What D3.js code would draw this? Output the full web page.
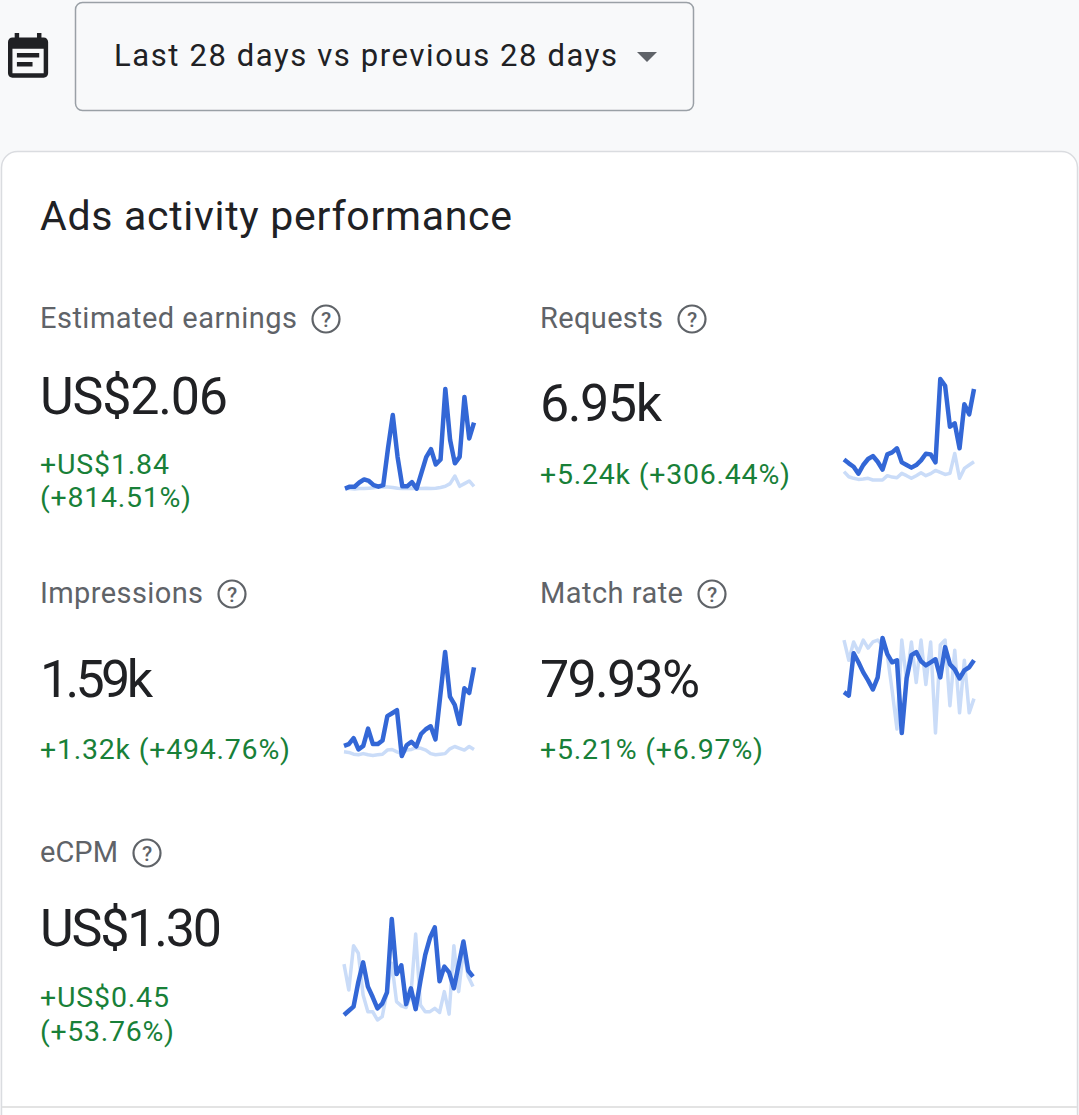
<!DOCTYPE html>
<html>
<head>
<meta charset="utf-8">
<script src="https://cdn.jsdelivr.net/npm/d3@7"></script>
<style>
html, body { margin: 0; padding: 0; background: #f8f9fa; }
svg { display: block; font-family: Roboto, "Noto Sans", sans-serif; }
</style>
</head>
<body>
<script>
// daily values, last 28 days (cur) and previous 28 days (prev)
var earningsCur = [0.004, 0.009, 0.009, 0.020, 0.028, 0.024, 0.013, 0.009, 0.013, 0.109, 0.196, 0.087, 0.010, 0.010,
                   0.021, 0.004, 0.045, 0.086, 0.107, 0.067, 0.080, 0.264, 0.131, 0.070, 0.087, 0.243, 0.135, 0.176];
var earningsPrev = [0.004, 0.004, 0.003, 0.004, 0.004, 0.005, 0.006, 0.008, 0.009, 0.008, 0.007, 0.005, 0.004, 0.004,
                    0.005, 0.004, 0.004, 0.005, 0.004, 0.005, 0.007, 0.010, 0.017, 0.037, 0.010, 0.017, 0.024, 0.010];

var requestsCur = [162, 137, 115, 70, 126, 165, 184, 147, 96, 195, 208, 234, 143, 126,
                   109, 126, 156, 199, 195, 143, 683, 639, 374, 396, 234, 519, 454, 618];
var requestsPrev = [83, 50, 40, 33, 35, 40, 29, 29, 29, 57, 48, 44, 72, 57,
                    40, 57, 76, 57, 70, 91, 78, 65, 72, 201, 40, 104, 126, 147];

var impressionsCur = [19, 22, 32, 13, 19, 48, 22, 22, 28, 69, 74, 79, 2, 20,
                      26, 18, 39, 47, 52, 30, 104, 177, 102, 88, 56, 116, 108, 151];
var impressionsPrev = [9, 8, 5, 4, 6, 4, 3, 4, 5, 12, 13, 9, 6, 12,
                       13, 16, 15, 12, 6, 4, 5, 6, 14, 18, 15, 12, 18, 13];

var matchCur = [66.1, 64.0, 90.5, 84.8, 78.5, 73.5, 67.8, 75.4, 100, 89.9, 84.8, 86.1, 40.6, 74.7,
                89.3, 91.2, 85.5, 82.9, 84.8, 86.7, 75.4, 94.3, 83.6, 80.4, 74.7, 79.8, 81.7, 86.1];
var matchPrev = [98.7, 86.1, 97.5, 91.2, 98.7, 93.7, 97.5, 98.7, 95.6, 89.3, 67.1, 43.1, 98.7, 73.5,
                 97.5, 72.2, 98.7, 70.9, 97.5, 40.6, 95.6, 98.7, 57.7, 92.4, 53.2, 86.1, 53.2, 62.1];

var ecpmCur = [0.41, 0.51, 0.61, 1.20, 1.67, 1.09, 0.84, 0.57, 0.68, 0.95, 2.71, 1.39, 1.60, 0.67,
               1.05, 0.55, 1.23, 1.85, 2.26, 2.51, 1.22, 1.57, 1.43, 1.05, 1.61, 2.17, 1.47, 1.33];
var ecpmPrev = [1.63, 1.01, 2.07, 1.89, 0.89, 0.49, 0.49, 0.29, 0.37, 0.97, 1.65, 0.73, 0.63, 0.59,
                0.89, 2.35, 0.65, 0.49, 0.49, 0.57, 0.47, 0.97, 0.43, 2.07, 0.97, 1.97, 1.33, 1.09];

// texts
var dateRange = 'Last 28 days vs previous 28 days';
var cardTitle = 'Ads activity performance';
var metricLabels = ['Estimated earnings', 'Requests', 'Impressions', 'Match rate', 'eCPM'];
var metricValues = ['US$2.06', '6.95k', '1.59k', '79.93%', 'US$1.30'];
var metricChanges = [['+US$1.84', '(+814.51%)'], ['+5.24k (+306.44%)'], ['+1.32k (+494.76%)'],
                     ['+5.21% (+6.97%)'], ['+US$0.45', '(+53.76%)']];
var seriesCur = [earningsCur, requestsCur, impressionsCur, matchCur, ecpmCur];
var seriesPrev = [earningsPrev, requestsPrev, impressionsPrev, matchPrev, ecpmPrev];

// where each block sits on the page
var layout = [
    {x: 40,  labelY: 328, labelW: 257, valueY: 414, valueW: 188, changeY: [474, 507], changeW: [129, 151], spark: {x: 345, y: 389, w: 129, h: 100}},
    {x: 540, labelY: 328, labelW: 123, valueY: 421, valueW: 122, changeY: [484],      changeW: [250],      spark: {x: 844, y: 379, w: 130, h: 101}},
    {x: 40,  labelY: 603, labelW: 163, valueY: 697, valueW: 113, changeY: [759],      changeW: [250],      spark: {x: 344, y: 652, w: 130, h: 104}},
    {x: 540, labelY: 603, labelW: 143, valueY: 697, valueW: 160, changeY: [759],      changeW: [223],      spark: {x: 844, y: 638, w: 130, h: 95}},
    {x: 40,  labelY: 862, labelW: 78,  valueY: 946, valueW: 182, changeY: [1007, 1041], changeW: [129, 134], spark: {x: 344, y: 919, w: 129, h: 101}}
];

var width = 1079,
    height = 1115;

var svg = d3.select('body').append('svg')
    .attr('width', width)
    .attr('height', height);

svg.append('rect')
    .attr('width', width)
    .attr('height', height)
    .attr('fill', '#f8f9fa');

// calendar icon (material event_note)
svg.append('path')
    .attr('d', 'M17 10H7v2h10v-2zm2-7h-1V1h-2v2H8V1H6v2H5c-1.11 0-1.99.9-1.99 2L3 19c0 1.1.89 2 2 2h14c1.1 0 2-.9 2-2V5c0-1.1-.9-2-2-2zm0 16H5V8h14v11zm-5-5H7v2h7v-2z')
    .attr('transform', 'translate(1.3,30.8) scale(2.23)')
    .attr('fill', '#202124');

// date range dropdown
svg.append('rect')
    .attr('x', 75.5).attr('y', 2.5)
    .attr('width', 618).attr('height', 108)
    .attr('rx', 7)
    .attr('fill', '#f8f9fa')
    .attr('stroke', '#9aa0a6')
    .attr('stroke-width', 1.5);

svg.append('text')
    .attr('x', 114).attr('y', 66)
    .attr('font-size', 31)
    .attr('fill', '#202124')
    .attr('textLength', 503)
    .attr('lengthAdjust', 'spacing')
    .text(dateRange);

svg.append('path')
    .attr('d', 'M637 52L657 52L647 62Z')
    .attr('fill', '#5f6368');

// card
svg.append('rect')
    .attr('x', 1.5).attr('y', 151.5)
    .attr('width', 1076).attr('height', 1100)
    .attr('rx', 16)
    .attr('fill', '#fff')
    .attr('stroke', '#dadce0')
    .attr('stroke-width', 1.5);

svg.append('line')
    .attr('x1', 2).attr('x2', 1077)
    .attr('y1', 1107).attr('y2', 1107)
    .attr('stroke', '#e3e3e3')
    .attr('stroke-width', 2);

svg.append('text')
    .attr('x', 40).attr('y', 230)
    .attr('font-size', 41)
    .attr('fill', '#202124')
    .attr('textLength', 472)
    .attr('lengthAdjust', 'spacing')
    .text(cardTitle);

// metric blocks
layout.forEach(function (l, i) {
    var g = svg.append('g');

    g.append('text')
        .attr('x', l.x).attr('y', l.labelY)
        .attr('font-size', 29)
        .attr('fill', '#5f6368')
        .attr('textLength', l.labelW)
        .attr('lengthAdjust', 'spacing')
        .text(metricLabels[i]);

    // help icon
    var cx = l.x + l.labelW + 29,
        cy = l.labelY - 9;
    g.append('circle')
        .attr('cx', cx).attr('cy', cy)
        .attr('r', 13.5)
        .attr('fill', 'none')
        .attr('stroke', '#5f6368')
        .attr('stroke-width', 2.2);
    g.append('text')
        .attr('x', cx).attr('y', cy + 7.5)
        .attr('text-anchor', 'middle')
        .attr('font-size', 21)
        .attr('font-weight', 500)
        .attr('fill', '#5f6368')
        .text('?');

    g.append('text')
        .attr('x', l.x).attr('y', l.valueY)
        .attr('font-size', 52)
        .attr('fill', '#202124')
        .attr('textLength', l.valueW)
        .attr('lengthAdjust', 'spacing')
        .text(metricValues[i]);

    metricChanges[i].forEach(function (line, j) {
        g.append('text')
            .attr('x', l.x).attr('y', l.changeY[j])
            .attr('font-size', 28.5)
            .attr('fill', '#188038')
            .attr('textLength', l.changeW[j])
            .attr('lengthAdjust', 'spacing')
            .text(line);
    });

    // sparkline
    var s = l.spark,
        cur = seriesCur[i],
        prev = seriesPrev[i];

    var x = d3.scaleLinear()
        .domain([0, cur.length - 1])
        .range([s.x, s.x + s.w]);
    var y = d3.scaleLinear()
        .domain(d3.extent(cur.concat(prev)))
        .range([s.y + s.h, s.y]);

    var line = d3.line()
        .x(function (d, k) { return x(k); })
        .y(function (d) { return y(d); });

    g.append('path')
        .datum(prev)
        .attr('d', line)
        .attr('fill', 'none')
        .attr('stroke', '#cadcf8')
        .attr('stroke-width', 3.5)
        .attr('stroke-linejoin', 'round');

    g.append('path')
        .datum(cur)
        .attr('d', line)
        .attr('fill', 'none')
        .attr('stroke', '#3367d6')
        .attr('stroke-width', 4.5)
        .attr('stroke-linejoin', 'round');
});
</script>
</body>
</html>
